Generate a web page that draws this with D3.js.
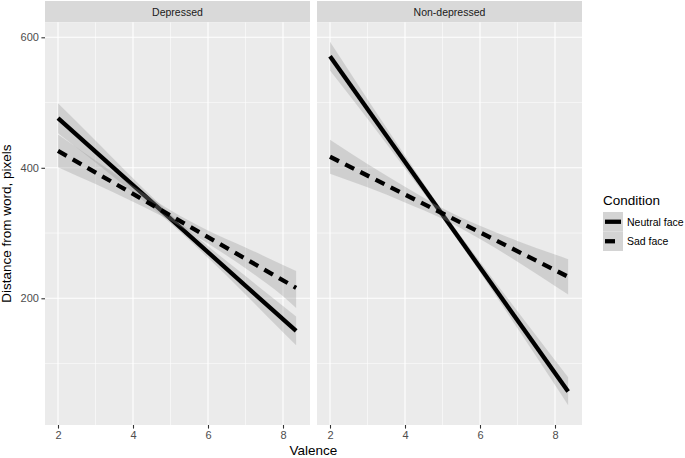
<!DOCTYPE html>
<html>
<head>
<meta charset="utf-8">
<style>
  body { margin: 0; background: #fff; }
  svg { font-family: "Liberation Sans", Arial, sans-serif; }
</style>
</head>
<body>
<svg width="685" height="458"></svg>
<script src="https://d3js.org/d3.v7.min.js"></script>
<script>
// facets and groups
var facets = ["Depressed", "Non-depressed"];
var conditions = ["Neutral face", "Sad face"];

// x ticks and y ticks
var xTicks = [2, 4, 6, 8];
var xMinor = [3, 5, 7];
var yTicks = [200, 400, 600];
var yMinor = [100, 300, 500];

// fitted line ends (valence 2 and 8.35)
var fitX = [2, 8.35];
var depNeutralFit = [476, 150];
var depSadFit = [426, 216];
var nonNeutralFit = [571, 57];
var nonSadFit = [417, 233];

// confidence band, read at these valence values
var bandX = [2, 3, 4, 5, 6, 7, 8, 8.35];
var depNeutralLo = [453, 408, 362, 315, 262, 206, 148, 128];
var depNeutralHi = [499, 442, 384, 329, 280, 234, 188, 172];
var depSadLo = [401, 375, 348, 319, 284, 246, 203, 185];
var depSadHi = [451, 411, 372, 335, 304, 278, 251, 242];
var nonNeutralLo = [549, 475, 399, 322, 240, 154, 67, 36];
var nonNeutralHi = [593, 505, 419, 334, 256, 180, 105, 79];
var nonSadLo = [391, 370, 347, 322, 291, 256, 219, 206];
var nonSadHi = [443, 406, 371, 338, 311, 288, 267, 260];

var panelData = [
  [ {fit: depNeutralFit, lo: depNeutralLo, hi: depNeutralHi, dash: null},
    {fit: depSadFit, lo: depSadLo, hi: depSadHi, dash: "10,7"} ],
  [ {fit: nonNeutralFit, lo: nonNeutralLo, hi: nonNeutralHi, dash: null},
    {fit: nonSadFit, lo: nonSadLo, hi: nonSadHi, dash: "10,7"} ]
];

var svg = d3.select("svg");

var panelLeft = [45, 317],
    panelW = 265,
    stripTop = 1,
    panelTop = 22.3,
    panelBottom = 425;

var y = d3.scaleLinear().domain([5.8, 623]).range([panelBottom, panelTop]);

var ribbonFill = "#999999", ribbonAlpha = 0.33;

facets.forEach(function(name, i) {
  var x = d3.scaleLinear().domain([1.6533, 8.72]).range([panelLeft[i], panelLeft[i] + panelW]);
  var g = svg.append("g");

  // strip
  g.append("rect")
    .attr("x", panelLeft[i]).attr("y", stripTop)
    .attr("width", panelW).attr("height", panelTop - stripTop)
    .attr("fill", "#d9d9d9");
  g.append("text")
    .attr("x", panelLeft[i] + panelW / 2).attr("y", 15.5)
    .attr("text-anchor", "middle")
    .attr("font-size", 10.5).attr("fill", "#1a1a1a")
    .text(name);

  // panel background
  g.append("rect")
    .attr("x", panelLeft[i]).attr("y", panelTop)
    .attr("width", panelW).attr("height", panelBottom - panelTop)
    .attr("fill", "#ebebeb");

  // grid
  g.selectAll(".ymin").data(yMinor).enter().append("line")
    .attr("x1", panelLeft[i]).attr("x2", panelLeft[i] + panelW)
    .attr("y1", function(d) { return y(d); }).attr("y2", function(d) { return y(d); })
    .attr("stroke", "#fff").attr("stroke-width", 0.55);
  g.selectAll(".xmin").data(xMinor).enter().append("line")
    .attr("y1", panelTop).attr("y2", panelBottom)
    .attr("x1", function(d) { return x(d); }).attr("x2", function(d) { return x(d); })
    .attr("stroke", "#fff").attr("stroke-width", 0.55);
  g.selectAll(".ymaj").data(yTicks).enter().append("line")
    .attr("x1", panelLeft[i]).attr("x2", panelLeft[i] + panelW)
    .attr("y1", function(d) { return y(d); }).attr("y2", function(d) { return y(d); })
    .attr("stroke", "#fff").attr("stroke-width", 1.1);
  g.selectAll(".xmaj").data(xTicks).enter().append("line")
    .attr("y1", panelTop).attr("y2", panelBottom)
    .attr("x1", function(d) { return x(d); }).attr("x2", function(d) { return x(d); })
    .attr("stroke", "#fff").attr("stroke-width", 1.1);

  // ribbons and lines, group by group like geom_smooth
  var area = d3.area()
    .x(function(d) { return x(d[0]); })
    .y0(function(d) { return y(d[1]); })
    .y1(function(d) { return y(d[2]); })
    .curve(d3.curveMonotoneX);
  var line = d3.line()
    .x(function(d) { return x(d[0]); })
    .y(function(d) { return y(d[1]); });

  panelData[i].forEach(function(s) {
    var pts = bandX.map(function(v, k) { return [v, s.lo[k], s.hi[k]]; });
    g.append("path")
      .attr("d", area(pts))
      .attr("fill", ribbonFill).attr("fill-opacity", ribbonAlpha);
    g.append("path")
      .attr("d", line(fitX.map(function(v, k) { return [v, s.fit[k]]; })))
      .attr("fill", "none").attr("stroke", "#000")
      .attr("stroke-width", 4.3)
      .attr("stroke-dasharray", s.dash);
  });

  // x axis
  var xa = svg.append("g")
    .attr("transform", "translate(0," + panelBottom + ")")
    .call(d3.axisBottom(x).tickValues(xTicks).tickFormat(d3.format("d"))
      .tickSize(3.6).tickPadding(2.5));
  xa.select(".domain").remove();
  xa.selectAll(".tick line").attr("stroke", "#333").attr("stroke-width", 1.1);
  xa.selectAll(".tick text").attr("fill", "#4d4d4d").attr("font-size", 11)
    .attr("font-family", "Liberation Sans, Arial, sans-serif");
});

// y axis (left panel only)
var ya = svg.append("g")
  .attr("transform", "translate(" + panelLeft[0] + ",0)")
  .call(d3.axisLeft(y).tickValues(yTicks).tickFormat(d3.format("d"))
    .tickSize(3.6).tickPadding(2.5));
ya.select(".domain").remove();
ya.selectAll(".tick line").attr("stroke", "#333").attr("stroke-width", 1.1);
ya.selectAll(".tick text").attr("fill", "#4d4d4d").attr("font-size", 11)
  .attr("font-family", "Liberation Sans, Arial, sans-serif");

// axis titles
svg.append("text")
  .attr("x", (panelLeft[0] + panelLeft[1] + panelW) / 2).attr("y", 455)
  .attr("text-anchor", "middle").attr("font-size", 13.5)
  .text("Valence");
svg.append("text")
  .attr("transform", "translate(11," + (panelTop + panelBottom) / 2 + ") rotate(-90)")
  .attr("text-anchor", "middle").attr("font-size", 13.5)
  .text("Distance from word, pixels");

// legend
var lg = svg.append("g").attr("transform", "translate(603,0)");
lg.append("text").attr("x", 0).attr("y", 205).attr("font-size", 13.5).text("Condition");
conditions.forEach(function(c, k) {
  var top = 212 + k * 19.5;
  lg.append("rect").attr("x", 0).attr("y", top).attr("width", 20).attr("height", 19.5)
    .attr("fill", "#f2f2f2");
  lg.append("rect").attr("x", 0).attr("y", top).attr("width", 20).attr("height", 19.5)
    .attr("fill", ribbonFill).attr("fill-opacity", ribbonAlpha);
  lg.append("line")
    .attr("x1", 2).attr("x2", 18)
    .attr("y1", top + 9.75).attr("y2", top + 9.75)
    .attr("stroke", "#000").attr("stroke-width", 4.3)
    .attr("stroke-dasharray", k === 1 ? "10,7" : null);
  lg.append("text").attr("x", 24).attr("y", top + 13.5)
    .attr("font-size", 10.5).attr("fill", "#000").text(c);
});
</script>
</body>
</html>
